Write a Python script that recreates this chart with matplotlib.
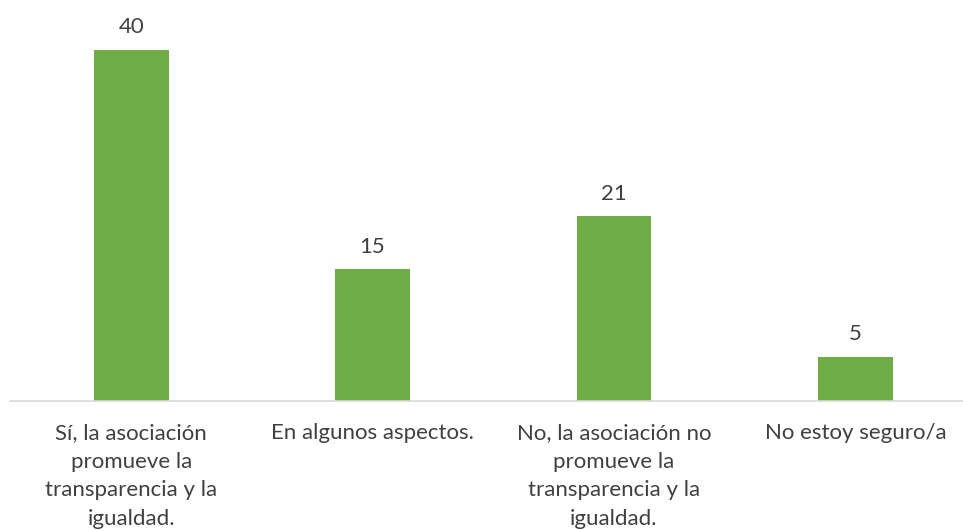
import matplotlib
matplotlib.use("Agg")
import matplotlib.pyplot as plt

categories = [
    "Sí, la asociación\npromueve la\ntransparencia y la\nigualdad.",
    "En algunos aspectos.",
    "No, la asociación no\npromueve la\ntransparencia y la\nigualdad.",
    "No estoy seguro/a",
]
values = [40, 15, 21, 5]

plt.rcParams['font.family'] = ['Lato', 'DejaVu Sans']

W, H = 963, 530
fig = plt.figure(figsize=(W / 100, H / 100), dpi=100)
left_px, right_px = 10.5, 976
base_px = 400.5
ymax = 45
px_per_unit = (400.5 - 50) / 40
top_px = base_px - ymax * px_per_unit
ax = fig.add_axes([left_px / W, (H - base_px) / H,
                   (right_px - left_px) / W, (base_px - top_px) / H])

x = list(range(len(values)))
bars = ax.bar(x, values, width=0.31, color="#70AD47", zorder=2)
for b, v in zip(bars, values):
    ax.annotate(str(v), (b.get_x() + b.get_width() / 2, v),
                xytext=(0, 9), textcoords="offset points",
                ha="center", va="bottom", fontsize=16, color="#404040")

ax.set_xlim(-0.5, len(values) - 0.5)
ax.set_ylim(0, ymax)
ax.set_xticks(x)
ax.set_xticklabels(categories, fontsize=16, color="#404040", linespacing=1.55)
ax.tick_params(axis="x", length=0, pad=16)
ax.set_yticks([])
for s in ["top", "right", "left"]:
    ax.spines[s].set_visible(False)
ax.spines["bottom"].set_color("#D9D9D9")
ax.spines["bottom"].set_linewidth(1.2)

fig.savefig("out.png", dpi=100)
